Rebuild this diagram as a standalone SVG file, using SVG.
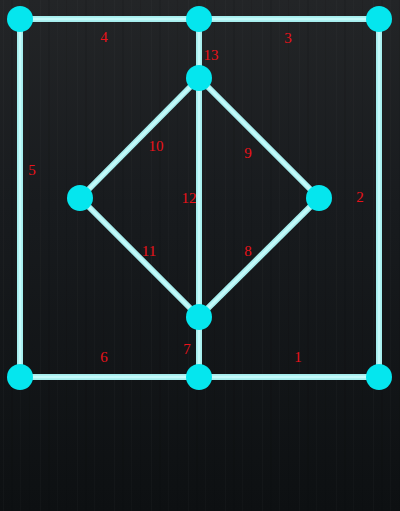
<svg xmlns="http://www.w3.org/2000/svg" width="400" height="511" viewBox="0 0 400 511">
<defs>
<linearGradient id="bg" x1="0" y1="0" x2="0" y2="1">
<stop offset="0" stop-color="#232527"/>
<stop offset="0.4" stop-color="#181b1e"/>
<stop offset="1" stop-color="#0d1012"/>
</linearGradient>
<pattern id="grain" width="37" height="511" patternUnits="userSpaceOnUse">
<rect x="3" y="0" width="1" height="511" fill="#ffffff" opacity="0.018"/>
<rect x="11" y="0" width="2" height="511" fill="#000000" opacity="0.08"/>
<rect x="20" y="0" width="1" height="511" fill="#ffffff" opacity="0.015"/>
<rect x="29" y="0" width="1" height="511" fill="#000000" opacity="0.07"/>
</pattern>
<style>
.edge{stroke:#a6eeee;stroke-width:6;stroke-linecap:butt;fill:none}
.edgec{stroke:#c4fafa;stroke-width:2.5;fill:none}
.node{fill:#05e6ee}
.lbl{font-family:"Liberation Serif","Times New Roman",serif;font-size:15px;fill:#ea121a;text-anchor:middle}
</style>
</defs>
<rect width="400" height="511" fill="url(#bg)"/>
<rect width="400" height="511" fill="url(#grain)"/>
<g id="connectors">
<line class="edge" x1="20" y1="19" x2="199" y2="19"/>
<line class="edge" x1="199" y1="19" x2="379" y2="19"/>
<line class="edge" x1="379" y1="19" x2="379" y2="377"/>
<line class="edge" x1="379" y1="377" x2="199" y2="377"/>
<line class="edge" x1="199" y1="377" x2="20" y2="377"/>
<line class="edge" x1="20" y1="377" x2="20" y2="19"/>
<line class="edge" x1="199" y1="19" x2="199" y2="78"/>
<line class="edge" x1="199" y1="78" x2="319" y2="198"/>
<line class="edge" x1="319" y1="198" x2="199" y2="317"/>
<line class="edge" x1="199" y1="317" x2="80" y2="198"/>
<line class="edge" x1="80" y1="198" x2="199" y2="78"/>
<line class="edge" x1="199" y1="78" x2="199" y2="317"/>
<line class="edge" x1="199" y1="317" x2="199" y2="377"/>
<g class="edgec">
<line x1="20" y1="19" x2="379" y2="19"/>
<line x1="379" y1="19" x2="379" y2="377"/>
<line x1="379" y1="377" x2="20" y2="377"/>
<line x1="20" y1="377" x2="20" y2="19"/>
<line x1="199" y1="19" x2="199" y2="377"/>
<line x1="199" y1="78" x2="319" y2="198"/>
<line x1="319" y1="198" x2="199" y2="317"/>
<line x1="199" y1="317" x2="80" y2="198"/>
<line x1="80" y1="198" x2="199" y2="78"/>
</g>
</g>
<g id="n1"><circle class="node" cx="20" cy="19" r="13"/></g>
<g id="n2"><circle class="node" cx="199" cy="19" r="13"/></g>
<g id="n3"><circle class="node" cx="379" cy="19" r="13"/></g>
<g id="n4"><circle class="node" cx="199" cy="78" r="13"/></g>
<g id="n5"><circle class="node" cx="80" cy="198" r="13"/></g>
<g id="n6"><circle class="node" cx="319" cy="198" r="13"/></g>
<g id="n7"><circle class="node" cx="199" cy="317" r="13"/></g>
<g id="n8"><circle class="node" cx="20" cy="377" r="13"/></g>
<g id="n9"><circle class="node" cx="199" cy="377" r="13"/></g>
<g id="n10"><circle class="node" cx="379" cy="377" r="13"/></g>
<g id="labels">
<text class="lbl" x="104" y="42">4</text>
<text class="lbl" x="288" y="43">3</text>
<text class="lbl" x="211" y="60">13</text>
<text class="lbl" x="156" y="151">10</text>
<text class="lbl" x="248" y="158">9</text>
<text class="lbl" x="32" y="175">5</text>
<text class="lbl" x="360" y="202">2</text>
<text class="lbl" x="189" y="203">12</text>
<text class="lbl" x="149" y="256">11</text>
<text class="lbl" x="248" y="256">8</text>
<text class="lbl" x="187" y="354">7</text>
<text class="lbl" x="104" y="362">6</text>
<text class="lbl" x="298" y="362">1</text>
</g>
</svg>
